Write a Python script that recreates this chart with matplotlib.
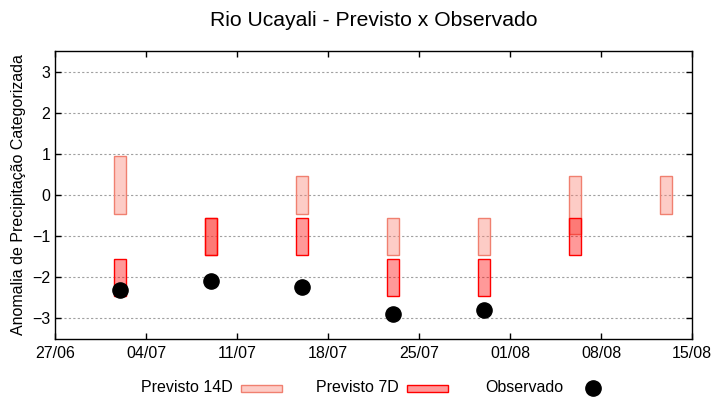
import matplotlib
matplotlib.use("Agg")
import matplotlib.pyplot as plt
import matplotlib.dates as mdates
from matplotlib.patches import Rectangle
from matplotlib.lines import Line2D
from datetime import datetime
import numpy as np

plt.rcParams['font.family'] = ['Liberation Sans', 'DejaVu Sans']

# dados (datas semanais)
datas = ["02/07", "09/07", "16/07", "23/07", "30/07", "06/08", "13/08"]
prev14_inf = [-0.45, -1.45, -0.45, -1.45, -1.45, -0.95, -0.45]
prev14_sup = [0.95, -0.55, 0.45, -0.55, -0.55, 0.45, 0.45]
prev7_inf = [-2.45, -1.45, -1.45, -2.45, -2.45, -1.45, None]
prev7_sup = [-1.55, -0.55, -0.55, -1.55, -1.55, -0.55, None]
obs = [-2.32, -2.10, -2.23, -2.90, -2.80, None, None]
xticks = ["27/06", "04/07", "11/07", "18/07", "25/07", "01/08", "08/08", "15/08"]

ANO = 2021
def to_date(s):
    return datetime.strptime(f"{s}/{ANO}", "%d/%m/%Y")

x = mdates.date2num([to_date(d) for d in datas])
xt = mdates.date2num([to_date(d) for d in xticks])

cor14 = (250/255, 128/255, 114/255, 0.4)
cor7 = (1, 0, 0, 0.4)

fig = plt.figure(figsize=(7.2, 4.0), dpi=100)
ax = fig.add_axes([55/720, 61/400, 637/720, 288/400])

# previsto 14D
m = [i for i in range(len(x)) if prev14_inf[i] is not None]
ax.bar(x[m], [prev14_sup[i] - prev14_inf[i] for i in m], bottom=[prev14_inf[i] for i in m],
       width=0.9, color=cor14, edgecolor='#f08070', linewidth=1, zorder=2)

# previsto 7D
m = [i for i in range(len(x)) if prev7_inf[i] is not None]
ax.bar(x[m], [prev7_sup[i] - prev7_inf[i] for i in m], bottom=[prev7_inf[i] for i in m],
       width=0.9, color=cor7, edgecolor='#ff0000', linewidth=1, zorder=3)

# observado
m = [i for i in range(len(x)) if obs[i] is not None]
ax.scatter(x[m], [obs[i] for i in m], s=120, color='black', zorder=4)

ax.set_xlim(xt[0], xt[-1])
ax.set_ylim(-3.5, 3.5)
ax.set_xticks(xt)
ax.set_xticklabels(xticks)
ax.set_yticks([-3, -2, -1, 0, 1, 2, 3])
ax.tick_params(direction='in', length=4, width=1, labelsize=11.5, top=True, right=True,
               labeltop=False, labelright=False)
ax.tick_params(axis='x', pad=5)
ax.yaxis.grid(True, linestyle=(0, (2, 2)), color='#a0a0a0', linewidth=0.8)
ax.set_axisbelow(True)
for sp in ax.spines.values():
    sp.set_linewidth(1)

ax.set_ylabel("Anomalia de Precipitação Categorizada", fontsize=11.5, labelpad=4)
fig.text(373.5/720, 1 - 20/400, "Rio Ucayali - Previsto x Observado", ha='center', va='center', fontsize=15.2)

# legenda manual (estilo gnuplot)
ly = 1 - 388/400
fig.text(233/720, ly, "Previsto 14D", ha='right', va='center', fontsize=11.5)
fig.add_artist(Rectangle((241/720, (400-391.5)/400), 41/720, 6.5/400, transform=fig.transFigure,
                         facecolor=cor14, edgecolor='#f08070', linewidth=1))
fig.text(399/720, ly, "Previsto 7D", ha='right', va='center', fontsize=11.5)
fig.add_artist(Rectangle((407/720, (400-391.5)/400), 41/720, 6.5/400, transform=fig.transFigure,
                         facecolor=cor7, edgecolor='#ff0000', linewidth=1))
fig.text(563/720, ly, "Observado", ha='right', va='center', fontsize=11.5)
fig.add_artist(Line2D([593/720], [ly], transform=fig.transFigure, marker='o', markersize=11,
                      color='black', linestyle='none'))

fig.savefig("out.png", dpi=100)
